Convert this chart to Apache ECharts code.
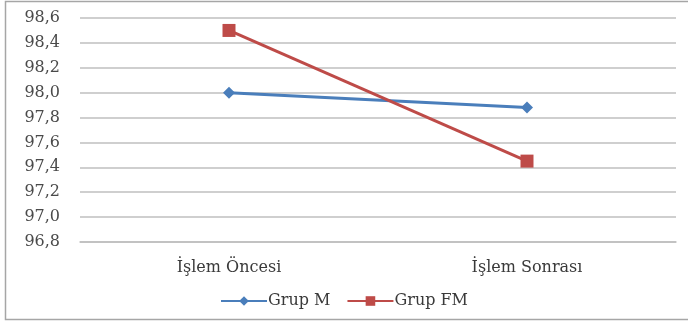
<!DOCTYPE html>
<html><head><meta charset="utf-8">
<script src="https://cdn.jsdelivr.net/npm/echarts@6/dist/echarts.min.js"></script>
<style>html,body{margin:0;padding:0;background:#fff}#c{width:688px;height:322px}</style>
</head><body><div id="c"></div>
<script>
var categories = ['İşlem Öncesi', 'İşlem Sonrası'];
var grupM = [98.0, 97.88];
var grupFM = [98.5, 97.45];
var yMin = 96.8, yMax = 98.6, yStep = 0.2;

var chart = echarts.init(document.getElementById('c'));
var font = 'DejaVu Serif';
chart.setOption({
  animation: false,
  textStyle: {fontFamily: font},
  graphic: [{type: 'rect', shape: {x: 5.5, y: 1.5, width: 700, height: 318}, style: {fill: 'none', stroke: '#a6a6a6', lineWidth: 1.5}, silent: true}],
  grid: {left: 80, right: 12, top: 18, bottom: 80},
  legend: {
    top: 288, left: 'center', itemWidth: 46, itemHeight: 12, itemGap: 16,
    textStyle: {fontFamily: font, fontSize: 16, color: '#3a3a3a', padding: [0, 0, 0, -4]},
    data: ['Grup M', 'Grup FM']
  },
  xAxis: {
    type: 'category', data: categories, boundaryGap: true,
    axisLine: {lineStyle: {color: '#bfbfbf', width: 1.5}},
    axisTick: {show: false},
    axisLabel: {fontFamily: font, fontSize: 16, color: '#3a3a3a', margin: 18}
  },
  yAxis: {
    type: 'value', min: yMin, max: yMax, interval: yStep,
    axisLine: {show: false}, axisTick: {show: false},
    splitLine: {lineStyle: {color: '#bfbfbf', width: 1.5}},
    axisLabel: {fontFamily: font, fontSize: 16, color: '#4a4a4a', margin: 20,
      formatter: function (v) { return v.toFixed(1).replace('.', ','); }}
  },
  series: [
    {name: 'Grup M', type: 'line', data: grupM, symbol: 'diamond', symbolSize: 12,
     lineStyle: {color: '#4a7ebb', width: 3}, itemStyle: {color: '#4a7ebb'}},
    {name: 'Grup FM', type: 'line', data: grupFM, symbol: 'rect', symbolSize: 13,
     lineStyle: {color: '#be4b48', width: 3}, itemStyle: {color: '#be4b48'}}
  ]
});
</script></body></html>
